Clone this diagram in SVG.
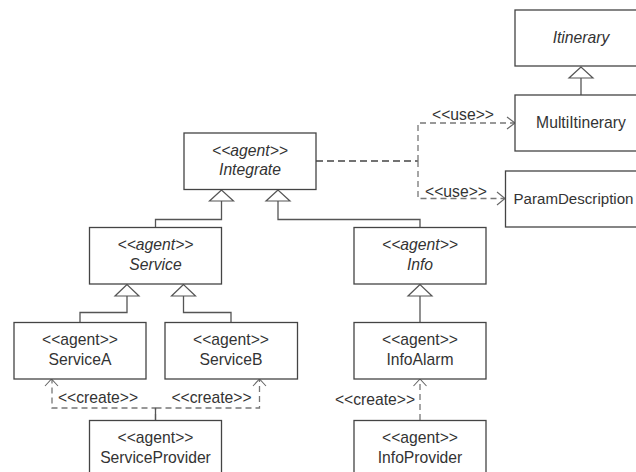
<svg xmlns="http://www.w3.org/2000/svg" width="636" height="472" viewBox="0 0 636 472">
<style>
text{font-family:"Liberation Sans",Arial,sans-serif;font-size:15.7px;fill:#333;text-anchor:middle}
.i{font-style:italic}
.box{fill:#fff;stroke:#444;stroke-width:1.3}
.line{fill:none;stroke:#555;stroke-width:1.3}
.tri{fill:#fff;stroke:#555;stroke-width:1.2}
.dash{fill:none;stroke:#777;stroke-width:1.3;stroke-dasharray:6 4}
.head{fill:none;stroke:#666;stroke-width:1.1}
</style>
<rect width="636" height="472" fill="#fff"/>
<g id="connectors">
<path class="line" d="M221.500 201V219.500H155.500V227"/>
<path class="line" d="M278 201V219.500H420V227"/>
<path class="line" d="M127 296V312.500H80V322"/>
<path class="line" d="M183.500 296V312.500H231V322"/>
<path class="line" d="M420 296V322"/>
<path class="line" d="M581 78V95"/>
<path class="tri" d="M221.500 190L209.500 201H233.500Z"/>
<path class="tri" d="M278 190L266 201H290Z"/>
<path class="tri" d="M127 284.500L115 296H139Z"/>
<path class="tri" d="M183.500 284.500L171.500 296H195.500Z"/>
<path class="tri" d="M420 284.500L408 296H432Z"/>
<path class="tri" d="M581 67L569 78H593Z"/>
<path d="M316 161H418" fill="none" stroke="#444" stroke-width="1.600" stroke-dasharray="7 4"/>
<path class="dash" d="M418 161V123H514"/>
<path class="dash" d="M418 161V198.500H504"/>
<path class="head" d="M507 117L515 123L507 129"/>
<path class="head" d="M497 192L505 198.500L497 205"/>
<path class="dash" d="M155.500 420V408H52V380"/>
<path class="dash" d="M155.500 408H259.500V380"/>
<path class="line" d="M155.500 420V408"/>
<path class="head" d="M45 386L51.500 379L58 386"/>
<path class="head" d="M253 386L259.500 379L266 386"/>
<path class="dash" d="M420 420V380"/>
<path class="head" d="M413.500 386L420 379L426.500 386"/>
</g>
<g id="itinerary"><rect class="box" x="515" y="10" width="130" height="56"/><text class="i" x="581" y="43">Itinerary</text></g>
<g id="multiitinerary"><rect class="box" x="515" y="95" width="130" height="56"/><text x="581" y="128">MultiItinerary</text></g>
<g id="paramdescription"><rect class="box" x="505.500" y="171" width="140" height="56"/><text x="573.500" y="204" style="font-size:15.100px">ParamDescription</text></g>
<g id="integrate"><rect class="box" x="184" y="133" width="132" height="56.500"/><text class="i" x="250" y="156">&lt;&lt;agent&gt;&gt;</text><text class="i" x="250" y="175">Integrate</text></g>
<g id="service"><rect class="box" x="89.500" y="227.500" width="132" height="56.500"/><text class="i" x="155.500" y="250">&lt;&lt;agent&gt;&gt;</text><text class="i" x="155.500" y="270">Service</text></g>
<g id="info"><rect class="box" x="354" y="227.500" width="132" height="56.500"/><text class="i" x="420" y="250">&lt;&lt;agent&gt;&gt;</text><text class="i" x="420" y="270">Info</text></g>
<g id="servicea"><rect class="box" x="14" y="322.500" width="132" height="56.500"/><text x="80" y="345">&lt;&lt;agent&gt;&gt;</text><text x="80" y="365">ServiceA</text></g>
<g id="serviceb"><rect class="box" x="165" y="322.500" width="132.500" height="56.500"/><text x="231" y="345">&lt;&lt;agent&gt;&gt;</text><text x="231" y="365">ServiceB</text></g>
<g id="infoalarm"><rect class="box" x="354" y="322.500" width="132" height="56.500"/><text x="420" y="345">&lt;&lt;agent&gt;&gt;</text><text x="420" y="365">InfoAlarm</text></g>
<g id="serviceprovider"><rect class="box" x="89.500" y="420.500" width="132" height="60"/><text x="155.500" y="443">&lt;&lt;agent&gt;&gt;</text><text x="155.500" y="463">ServiceProvider</text></g>
<g id="infoprovider"><rect class="box" x="354" y="420.500" width="132" height="60"/><text x="420" y="443">&lt;&lt;agent&gt;&gt;</text><text x="420" y="463">InfoProvider</text></g>
<g id="labels">
<text x="463" y="120">&lt;&lt;use&gt;&gt;</text>
<text x="456" y="197">&lt;&lt;use&gt;&gt;</text>
<text x="98" y="403">&lt;&lt;create&gt;&gt;</text>
<text x="211.500" y="403">&lt;&lt;create&gt;&gt;</text>
<text x="375" y="405">&lt;&lt;create&gt;&gt;</text>
</g>
</svg>
